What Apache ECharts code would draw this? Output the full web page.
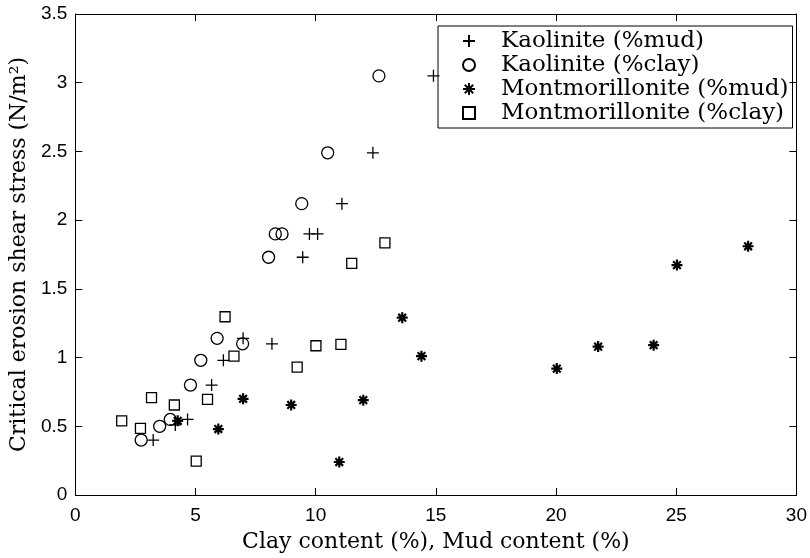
<!DOCTYPE html>
<html><head><meta charset="utf-8">
<script src="https://cdn.jsdelivr.net/npm/echarts@6/dist/echarts.min.js"></script>
<style>html,body{margin:0;padding:0;background:#fff}#c{width:810px;height:558px}</style>
</head><body><div id="c"></div>
<script>
const seriesNames = ['Kaolinite (%mud)', 'Kaolinite (%clay)', 'Montmorillonite (%mud)', 'Montmorillonite (%clay)'];
const kaoMudX = [14.9, 12.38, 11.09, 9.74, 10.08, 9.46, 8.18, 6.98, 6.16, 5.67, 4.67, 4.16, 3.24];
const kaoMudY = [3.05, 2.49, 2.12, 1.90, 1.90, 1.73, 1.10, 1.14, 0.98, 0.80, 0.55, 0.51, 0.40];
const kaoClayX = [12.63, 10.5, 9.42, 8.32, 8.6, 8.04, 5.9, 6.96, 5.22, 4.79, 3.95, 3.51, 2.74];
const kaoClayY = [3.05, 2.49, 2.12, 1.90, 1.90, 1.73, 1.14, 1.10, 0.98, 0.80, 0.55, 0.50, 0.40];
const monMudX = [4.26, 5.95, 6.98, 8.98, 10.98, 11.98, 13.6, 14.4, 20.03, 21.75, 24.06, 25.03, 27.99];
const monMudY = [0.54, 0.48, 0.70, 0.655, 0.24, 0.69, 1.29, 1.01, 0.92, 1.08, 1.09, 1.673, 1.81];
const monClayX = [12.88, 11.5, 6.23, 6.6, 10.01, 11.05, 9.23, 3.17, 5.5, 4.12, 1.93, 2.71, 5.03];
const monClayY = [1.835, 1.685, 1.297, 1.01, 1.086, 1.096, 0.93, 0.708, 0.696, 0.655, 0.54, 0.485, 0.247];
const xTicks = [0, 5, 10, 15, 20, 25, 30];
const yTicks = [0, 0.5, 1, 1.5, 2, 2.5, 3, 3.5];

const zip = (xs, ys) => xs.map((x, i) => [x, ys[i]]);
const SYM = {
  plus: 'path://M0,5L10,5M5,0L5,10',
  circle: 'path://M0,5A5,5 0 1,1 10,5A5,5 0 1,1 0,5Z',
  star: 'path://M0,5L10,5M5,0L5,10M1.5,1.5L8.5,8.5M8.5,1.5L1.5,8.5',
  square: 'path://M0,0L10,0L10,10L0,10Z'
};
const tickFont = {fontFamily: 'Liberation Sans', fontSize: 19, color: '#000'};
const serif = 'DejaVu Serif';
const chart = echarts.init(document.getElementById('c'), null, {renderer: 'canvas'});
const mkSeries = (name, data, symbol, size, bw) => ({
  name, type: 'scatter', data, symbol, symbolSize: size, xAxisIndex: 0, yAxisIndex: 0,
  itemStyle: {color: 'rgba(0,0,0,0)', borderColor: '#000', borderWidth: bw, opacity: 1},
  emphasis: {disabled: true}
});
chart.setOption({
  animation: false,
  backgroundColor: '#fff',
  grid: {left: 71, right: 13, top: 14, bottom: 63},
  xAxis: [
    {type: 'value', min: xTicks[0], max: xTicks[xTicks.length-1], interval: 5,
     name: 'Clay content (%), Mud content (%)', nameLocation: 'middle', nameGap: 36,
     nameTextStyle: {fontFamily: serif, fontSize: 22, color: '#000'},
     axisLine: {show: true, onZero: false, lineStyle: {color: '#000', width: 1}},
     axisTick: {inside: true, length: 7, lineStyle: {color: '#000'}},
     axisLabel: Object.assign({margin: 11}, tickFont), splitLine: {show: false}},
    {type: 'value', position: 'top', min: 0, max: 30, interval: 5,
     axisLine: {show: true, onZero: false, lineStyle: {color: '#000', width: 1}},
     axisTick: {inside: true, length: 7, lineStyle: {color: '#000'}},
     axisLabel: {show: false}, splitLine: {show: false}}
  ],
  yAxis: [
    {type: 'value', min: yTicks[0], max: yTicks[yTicks.length-1], interval: 0.5,
     name: 'Critical erosion shear stress (N/m²)', nameLocation: 'middle', nameGap: 39,
     nameTextStyle: {fontFamily: serif, fontSize: 22, color: '#000'},
     axisLine: {show: true, onZero: false, lineStyle: {color: '#000', width: 1}},
     axisTick: {inside: true, length: 7, lineStyle: {color: '#000'}},
     axisLabel: Object.assign({margin: 8}, tickFont), splitLine: {show: false}},
    {type: 'value', position: 'right', min: 0, max: 3.5, interval: 0.5,
     axisLine: {show: true, onZero: false, lineStyle: {color: '#000', width: 1}},
     axisTick: {inside: true, length: 7, lineStyle: {color: '#000'}},
     axisLabel: {show: false}, splitLine: {show: false}}
  ],
  legend: {
    orient: 'vertical', left: 438, top: 26,
    data: seriesNames,
    borderColor: '#000', borderWidth: 1, borderRadius: 0,
    padding: [3, 4, 3, 24], itemGap: 0, itemWidth: 12, itemHeight: 12,
    textStyle: {fontFamily: serif, fontSize: 23, lineHeight: 24, color: '#000', padding: [0, 0, 0, 21]},
    selectedMode: false
  },
  series: [
    mkSeries(seriesNames[0], zip(kaoMudX, kaoMudY), SYM.plus, 12, 1.3),
    mkSeries(seriesNames[1], zip(kaoClayX, kaoClayY), SYM.circle, 12, 1.3),
    mkSeries(seriesNames[2], zip(monMudX, monMudY), SYM.star, 11, 2.2),
    mkSeries(seriesNames[3], zip(monClayX, monClayY), SYM.square, 10, 1.3)
  ]
});
</script></body></html>
